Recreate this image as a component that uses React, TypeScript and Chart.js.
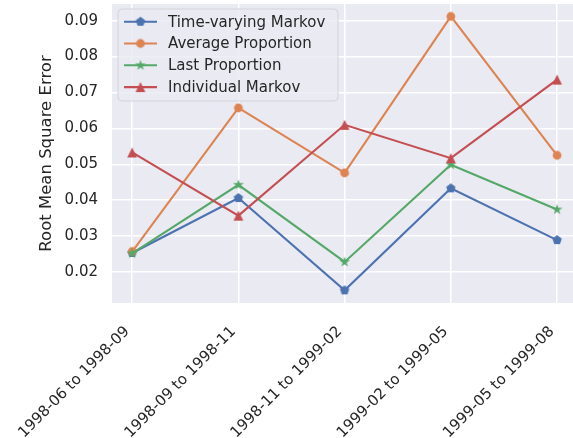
import React, { useEffect, useRef } from 'react';
import { Chart, registerables } from 'chart.js';

Chart.register(...registerables);

const categories = [
  '1998-06 to 1998-09',
  '1998-09 to 1998-11',
  '1998-11 to 1999-02',
  '1999-02 to 1999-05',
  '1999-05 to 1999-08',
];
const timeVaryingMarkov = [0.0253, 0.0406, 0.0149, 0.0433, 0.0289];
const averageProportion = [0.0257, 0.0657, 0.0476, 0.0912, 0.0525];
const lastProportion = [0.0252, 0.0443, 0.0228, 0.0499, 0.0374];
const individualMarkov = [0.0533, 0.0357, 0.061, 0.0517, 0.0736];
const yTicks = [0.02, 0.03, 0.04, 0.05, 0.06, 0.07, 0.08, 0.09];

const seriesNames = ['Time-varying Markov', 'Average Proportion', 'Last Proportion', 'Individual Markov'];
const seriesValues = [timeVaryingMarkov, averageProportion, lastProportion, individualMarkov];
const seriesColors = ['#4C72B0', '#DD8452', '#55A868', '#C44E52'];
const seriesMarkers = ['pentagon', 'circle', 'star', 'triangle'];

const FONT = "'DejaVu Sans', sans-serif";
const TEXT = '#262626';
const BG = '#EAEAF2';

function makeMarker(shape: string, color: string): HTMLCanvasElement {
  const size = 14;
  const c = document.createElement('canvas');
  c.width = size;
  c.height = size;
  const ctx = c.getContext('2d')!;
  const cx = size / 2;
  const cy = size / 2;
  ctx.fillStyle = color;
  ctx.beginPath();
  if (shape === 'circle') {
    ctx.arc(cx, cy, 4.4, 0, Math.PI * 2);
  } else if (shape === 'pentagon') {
    const R = 4.9;
    for (let i = 0; i < 5; i++) {
      const a = -Math.PI / 2 + (i * 2 * Math.PI) / 5;
      const px = cx + R * Math.cos(a);
      const py = cy + R * Math.sin(a);
      if (i === 0) ctx.moveTo(px, py);
      else ctx.lineTo(px, py);
    }
  } else if (shape === 'star') {
    const R = 5.6;
    const r = R * 0.382;
    for (let i = 0; i < 10; i++) {
      const a = -Math.PI / 2 + (i * Math.PI) / 5;
      const rr = i % 2 === 0 ? R : r;
      const px = cx + rr * Math.cos(a);
      const py = cy + rr * Math.sin(a);
      if (i === 0) ctx.moveTo(px, py);
      else ctx.lineTo(px, py);
    }
  } else {
    const h = 4.9;
    ctx.moveTo(cx, cy - h);
    ctx.lineTo(cx - h, cy + h);
    ctx.lineTo(cx + h, cy + h);
  }
  ctx.closePath();
  ctx.fill();
  return c;
}

const bgPlugin = {
  id: 'plotBg',
  beforeDraw(chart: any) {
    const { ctx, chartArea } = chart;
    ctx.save();
    ctx.fillStyle = BG;
    ctx.fillRect(chartArea.left, chartArea.top, chartArea.right - chartArea.left, chartArea.bottom - chartArea.top);
    ctx.restore();
  },
};

const legendPlugin = {
  id: 'innerLegend',
  afterDraw(chart: any) {
    const { ctx, chartArea } = chart;
    const x0 = chartArea.left + 6;
    const y0 = chartArea.top + 5;
    const w = 220;
    const h = 92;
    const r = 4;
    ctx.save();
    ctx.beginPath();
    ctx.moveTo(x0 + r, y0);
    ctx.lineTo(x0 + w - r, y0);
    ctx.arcTo(x0 + w, y0, x0 + w, y0 + r, r);
    ctx.lineTo(x0 + w, y0 + h - r);
    ctx.arcTo(x0 + w, y0 + h, x0 + w - r, y0 + h, r);
    ctx.lineTo(x0 + r, y0 + h);
    ctx.arcTo(x0, y0 + h, x0, y0 + h - r, r);
    ctx.lineTo(x0, y0 + r);
    ctx.arcTo(x0, y0, x0 + r, y0, r);
    ctx.closePath();
    ctx.fillStyle = 'rgba(234,234,242,0.8)';
    ctx.fill();
    ctx.strokeStyle = '#D3D3D9';
    ctx.lineWidth = 1;
    ctx.stroke();

    chart.data.datasets.forEach((ds: any, i: number) => {
      const cy = y0 + 12.7 + i * 21.8;
      const lx0 = x0 + 6;
      const lx1 = x0 + 39;
      ctx.strokeStyle = ds.borderColor;
      ctx.lineWidth = 2.1;
      ctx.beginPath();
      ctx.moveTo(lx0, cy);
      ctx.lineTo(lx1, cy);
      ctx.stroke();
      const img = ds.pointStyle as HTMLCanvasElement;
      ctx.drawImage(img, (lx0 + lx1) / 2 - img.width / 2, cy - img.height / 2);
      ctx.fillStyle = TEXT;
      ctx.font = `15px ${FONT}`;
      ctx.textAlign = 'left';
      ctx.textBaseline = 'middle';
      ctx.fillText(ds.label, x0 + 50, cy + 1);
    });
    ctx.restore();
  },
};

export default function App() {
  const canvasRef = useRef<HTMLCanvasElement | null>(null);

  useEffect(() => {
    if (!canvasRef.current) return;
    const datasets = seriesNames.map((name, i) => ({
      label: name,
      data: seriesValues[i].map((v, j) => ({ x: j, y: v })),
      borderColor: seriesColors[i],
      backgroundColor: seriesColors[i],
      borderWidth: 2.1,
      pointStyle: makeMarker(seriesMarkers[i], seriesColors[i]) as any,
      pointRadius: 4,
      tension: 0,
      order: seriesNames.length - i,
    }));

    const chart = new Chart(canvasRef.current, {
      type: 'line',
      data: { datasets },
      options: {
        responsive: false,
        animation: false,
        events: [],
        layout: { autoPadding: false, padding: { top: 4, left: 0, right: 0, bottom: 0 } },
        plugins: {
          legend: { display: false },
          tooltip: { enabled: false },
        },
        scales: {
          x: {
            type: 'linear',
            min: -0.19,
            max: 4.15,
            afterBuildTicks: (scale: any) => {
              scale.ticks = categories.map((_, i) => ({ value: i }));
            },
            afterFit: (scale: any) => {
              scale.height = 135;
              scale.paddingLeft = 0;
              scale.paddingRight = 0;
              scale.paddingTop = 0;
              scale.paddingBottom = 0;
            },
            ticks: {
              autoSkip: false,
              minRotation: 45,
              maxRotation: 45,
              padding: 20,
              labelOffset: -5,
              color: TEXT,
              font: { family: FONT, size: 15 },
              callback: (value: any) => categories[Math.round(Number(value))],
            },
            grid: { color: '#FFFFFF', lineWidth: 1.5, drawTicks: false },
            border: { display: false },
          },
          y: {
            type: 'linear',
            min: 0.011374,
            max: 0.094647,
            afterBuildTicks: (scale: any) => {
              scale.ticks = yTicks.map((v) => ({ value: v }));
            },
            afterFit: (scale: any) => {
              scale.width = 112;
              scale.paddingLeft = 0;
              scale.paddingRight = 0;
              scale.paddingTop = 0;
              scale.paddingBottom = 0;
            },
            ticks: {
              padding: 14,
              color: TEXT,
              font: { family: FONT, size: 15 },
              callback: (value: any) => Number(value).toFixed(2),
            },
            grid: { color: '#FFFFFF', lineWidth: 1.5, drawTicks: false },
            border: { display: false },
            title: {
              display: true,
              text: 'Root Mean Square Error',
              color: TEXT,
              font: { family: FONT, size: 16.5 },
              padding: { top: 37, bottom: 0 },
            },
          },
        },
      },
      plugins: [bgPlugin, legendPlugin],
    });
    return () => chart.destroy();
  }, []);

  return (
    <canvas
      ref={canvasRef}
      width={573}
      height={438}
      style={{ position: 'absolute', left: 0, top: 0, width: 573, height: 438, display: 'block' }}
    />
  );
}
